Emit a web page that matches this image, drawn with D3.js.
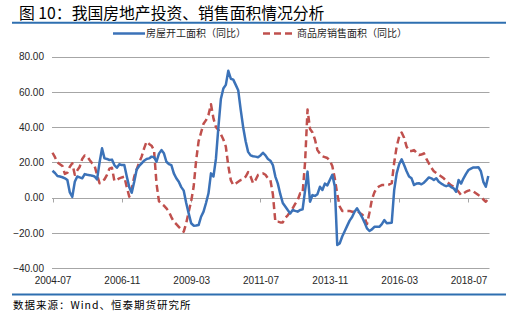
<!DOCTYPE html>
<html>
<head>
<meta charset="utf-8">
<script src="https://cdn.jsdelivr.net/npm/d3@7"></script>
<style>
  html, body { margin: 0; padding: 0; background: #fff; }
  svg { display: block; font-family: "Liberation Sans", Arial, "Noto Sans CJK SC", sans-serif; }
</style>
</head>
<body>
<svg id="chart" width="515" height="325"></svg>
<script>
// ---- data ----
const titleText = "图 10：我国房地产投资、销售面积情况分析";
const sourceText = "数据来源：Wind、恒泰期货研究所";
const seriesNames = ["房屋开工面积（同比）", "商品房销售面积（同比）"];
const startMonth = "2004-07";
const xTickLabels = ["2004-07", "2006-11", "2009-03", "2011-07", "2013-11", "2016-03", "2018-07"];
const yTicks = [-40, -20, 0, 20, 40, 60, 80];

// 房屋开工面积 同比 (%), monthly from 2004-07
const startsYoY = [
  15.3, 14, 12.3, 12, 11.6, 11, 10, 3, 0.5, 9, 12, 11.5,
  11, 13.4, 13, 12.8, 12.5, 12, 10.4, 20, 28, 22.3, 22, 21.4,
  21.6, 18.5, 17, 19, 18.5, 18.5, 12, 6, 2.8, 9, 16, 18,
  19.5, 21, 22, 22.3, 23.3, 23, 20.4, 25, 27, 25.2, 20.4, 19.1,
  18.5, 13.8, 11, 9, 6, 4, -3, -8.9, -14.5, -15.9, -15.8, -15.5,
  -10.8, -7.9, -3, 2.5, 13.8, 12, 22, 40, 56, 62, 64, 72,
  67.5, 67, 64, 61, 50, 40, 32, 26, 24, 23.5, 23.3, 23,
  24, 25.5, 24, 22, 21, 18.5, 12, 8, 2, -3, -5, -7,
  -8.9, -7, -7.5, -7.9, -7, -6.6, 4, 14.8, -2.3, 1.5, 1, 2,
  6.2, 4.4, 8, 7, 10, 13, 6.5, -26.8, -25.9, -22, -19, -16,
  -13, -11, -8, -6, -8.5, -11, -14, -17.4, -18.9, -18, -16.5, -16.5,
  -16.5, -15, -12.7, -14.5, -14.3, -14.2, 4.4, 13.8, 19, 21.8, 18.5, 15,
  12, 11, 7.2, 8, 8.2, 7.6, 8.5, 10, 11.5, 11, 10, 11,
  9, 8, 7.2, 6.5, 7.2, 6, 5.3, 3.4, 10, 8, 11, 13.5,
  15.7, 16.5, 17.2, 17.2, 17.3, 15, 9, 6.2, 12.3
];

// 商品房销售面积 同比 (%), monthly from 2004-07
const salesYoY = [
  25.5, 23, 20, 19, 18, 13.5, 14.2, 17.6, 19.5, 13, 15.5, 17.6,
  22, 24, 23.5, 21.4, 19.5, 18, 13, 8.2, 9.5, 10.4, 13, 16.5,
  17, 9.5, 10, 11, 11.5, 11.9, 6, 0.6, 5, 11.9, 16, 20,
  23.3, 28, 31.8, 30.5, 29.5, 27, 8, -2, -3.5, -4.5, -6, -8,
  -11, -13.6, -15, -16.5, -18, -19.3, -14.5, -8, -2, 6.2, 21, 32,
  37, 42, 44, 47, 53, 45, 40, 38.5, 36, 33, 29, 18,
  10, 7.2, 8, 9, 10, 10.5, 11.9, 14.5, 12, 8.2, 10, 12.9,
  13.5, 13.8, 13, 11, 10, 2, -13.6, -13.6, -14, -14, -11.5, -10,
  -8, -6, -3.5, -1.5, 2.5, 2.5, 20, 50, 39, 37, 33, 27,
  25, 23.5, 23, 22.5, 21, 18, 11, 2, -5, -7.5, -7.5, -7.5,
  -7.5, -8, -8, -7.5, -8.5, -9.5, -11, -15, -8.5, -1, 3, 5.5,
  6.5, 7.2, 7.2, 7.2, 7.5, 8.2, 20, 29, 34.6, 37, 34, 29,
  26.5, 26.5, 27, 25.5, 24.2, 24.5, 25.2, 22, 19.5, 17, 15, 14,
  13, 12, 11, 9.5, 8.2, 7, 6.2, 5, 3.4, 1.5, 2.5, 3.4,
  4, 4.4, 3.5, 2.5, 1.5, 0.6, -1, -2.3, -0.4
];

// ---- build month labels ----
const parseM = d3.timeParse("%Y-%m");
const fmtM = d3.timeFormat("%Y-%m");
const t0 = parseM(startMonth);
const months = startsYoY.map((_, i) => fmtM(d3.timeMonth.offset(t0, i)));

const svg = d3.select("#chart");
const blue = "#3b72b8";
const red = "#c0504d";
const grid = "#a6a6a6";
const frameBlue = "#2e6fb0";

// title
svg.append("text").attr("x", 19).attr("y", 19)
  .attr("font-family", "'Noto Sans CJK SC', sans-serif")
  .attr("font-size", 15.8).attr("fill", "#000").text(titleText);
svg.append("line").attr("x1", 12).attr("x2", 506).attr("y1", 22.7).attr("y2", 22.7)
  .attr("stroke", frameBlue).attr("stroke-width", 2);

// scales
const x = d3.scaleLinear().domain([0, months.length - 1]).range([52.5, 488.3]);
const y = d3.scaleLinear().domain([-40, 80]).range([268.2, 56.7]);

// gridlines
svg.append("g").selectAll("line").data(yTicks).join("line")
  .attr("x1", 52).attr("x2", 489.5)
  .attr("y1", d => Math.round(y(d)) + 0.5).attr("y2", d => Math.round(y(d)) + 0.5)
  .attr("stroke", grid).attr("stroke-width", 1);

// y axis labels
const yAxis = d3.axisLeft(y).tickValues(yTicks).tickFormat(d3.format(".2f")).tickSize(0).tickPadding(0);
const gy = svg.append("g").attr("transform", "translate(44,0)").call(yAxis);
gy.select(".domain").remove();
gy.selectAll("text").attr("font-size", 10).attr("fill", "#262626")
  .attr("font-family", "'Liberation Sans', Arial, sans-serif");

// x axis ticks on zero line, labels at bottom
const tickIdx = xTickLabels.map(l => months.indexOf(l));
svg.append("g").selectAll("line").data(tickIdx).join("line")
  .attr("x1", d => Math.round(x(d)) + 0.5).attr("x2", d => Math.round(x(d)) + 0.5)
  .attr("y1", Math.round(y(0)) + 0.5).attr("y2", Math.round(y(0)) + 4.5)
  .attr("stroke", grid).attr("stroke-width", 1);
const xAxis = d3.axisBottom(x).tickValues(tickIdx).tickFormat((d, i) => xTickLabels[i]).tickSize(0).tickPadding(0);
const gx = svg.append("g").attr("transform", "translate(0,277)").call(xAxis);
gx.select(".domain").remove();
gx.selectAll("text").attr("font-size", 10).attr("fill", "#262626")
  .attr("font-family", "'Liberation Sans', Arial, sans-serif");

// lines
const line = d3.line().x((d, i) => x(i)).y(d => y(d));
svg.append("path").datum(salesYoY).attr("d", line)
  .attr("fill", "none").attr("stroke", red).attr("stroke-width", 2.5)
  .attr("stroke-dasharray", "7,4").attr("stroke-linejoin", "round");
svg.append("path").datum(startsYoY).attr("d", line)
  .attr("fill", "none").attr("stroke", blue).attr("stroke-width", 2.5)
  .attr("stroke-linejoin", "round");

// legend
const lg = svg.append("g").attr("font-family", "'Noto Sans CJK SC', sans-serif").attr("font-size", 10).attr("fill", "#262626");
lg.append("line").attr("x1", 113).attr("x2", 145).attr("y1", 33.5).attr("y2", 33.5)
  .attr("stroke", blue).attr("stroke-width", 2.5);
lg.append("text").attr("x", 146).attr("y", 37).text(seriesNames[0]);
lg.append("line").attr("x1", 263).attr("x2", 292).attr("y1", 33.5).attr("y2", 33.5)
  .attr("stroke", red).attr("stroke-width", 2.5).attr("stroke-dasharray", "7,4");
lg.append("text").attr("x", 297).attr("y", 37).text(seriesNames[1]);

// bottom rule and source
svg.append("line").attr("x1", 12).attr("x2", 506).attr("y1", 294.5).attr("y2", 294.5)
  .attr("stroke", frameBlue).attr("stroke-width", 2);
svg.append("text").attr("x", 13).attr("y", 309)
  .attr("font-family", "'Noto Sans CJK SC', sans-serif")
  .attr("font-size", 10.5).attr("letter-spacing", 1).attr("fill", "#000").text(sourceText);
</script>
</body>
</html>
